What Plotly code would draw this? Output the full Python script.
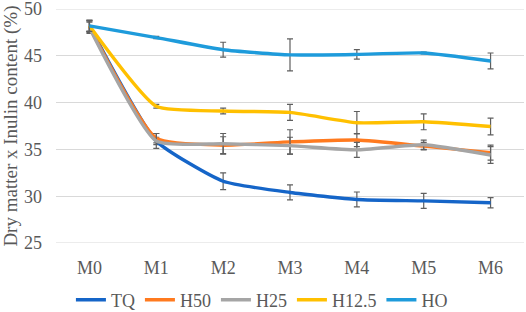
import plotly.graph_objects as go

categories = ["M0", "M1", "M2", "M3", "M4", "M5", "M6"]
series_names = ["TQ", "H50", "H25", "H12.5", "HO"]
tq = [48.2, 35.9, 31.6, 30.4, 29.65, 29.5, 29.3]
h50 = [48.1, 36.2, 35.45, 35.8, 36.0, 35.35, 34.65]
h25 = [48.0, 35.9, 35.6, 35.4, 34.95, 35.5, 34.4]
h125 = [48.2, 39.6, 39.1, 38.95, 37.85, 37.95, 37.45]
ho = [48.2, 46.95, 45.65, 45.1, 45.15, 45.3, 44.45]

tq_err = [0.6, 0.4, 0.9, 0.8, 0.8, 0.8, 0.55]
h50_err = [0.6, 0.5, 0.9, 1.3, 0.7, 0.4, 0.8]
h25_err = [0.6, 0.8, 1.1, 0.9, 0.8, 0.5, 0.9]
h125_err = [0.6, 0.2, 0.3, 0.85, 1.2, 0.85, 0.9]
ho_err = [0.6, 0.12, 0.8, 1.7, 0.5, 0.1, 0.85]

y_min, y_max = 25, 50
y_ticks = [25, 30, 35, 40, 45, 50]

colors = ["#1565C8", "#FF7A1F", "#A5A5A5", "#FFC000", "#1E9BDB"]
values = [tq, h50, h25, h125, ho]
errors = [tq_err, h50_err, h25_err, h125_err, ho_err]

fig = go.Figure()
for name, v, e, c in zip(series_names, values, errors, colors):
    fig.add_trace(go.Scatter(
        x=categories, y=v, name=name, mode="lines",
        line=dict(color=c, width=3.4, shape="spline", smoothing=0.5),
        error_y=dict(type="data", array=e, visible=True, color="#5f5f5f",
                     thickness=1.2, width=3),
    ))

# edge gridlines (plotly drops gridlines lying on the plot-area border)
for yv in (y_min, y_max):
    fig.add_shape(type="line", xref="paper", yref="y", x0=0, x1=1, y0=yv, y1=yv,
                  line=dict(color="#D9D9D9", width=1), layer="below")

font_family = "Liberation Serif"
fig.update_layout(
    width=526, height=312,
    margin=dict(l=56, r=2, t=9, b=69, autoexpand=False),
    paper_bgcolor="white", plot_bgcolor="white",
    font=dict(family=font_family, size=18, color="#595959"),
    showlegend=True,
    legend=dict(orientation="h", x=0.44, xanchor="center", y=-0.165, yanchor="top",
                font=dict(family=font_family, size=18, color="#595959"),
                itemwidth=30, tracegroupgap=0, bgcolor="rgba(0,0,0,0)"),
    xaxis=dict(type="category", range=[-0.5, 6.5], showgrid=False, zeroline=False,
               showline=False, ticks="", automargin=False, ticklabelstandoff=12,
               tickfont=dict(size=18, color="#595959")),
    yaxis=dict(range=[y_min, y_max], tickvals=y_ticks, showgrid=True,
               gridcolor="#D9D9D9", gridwidth=1, zeroline=False, showline=False,
               ticks="", automargin=False, ticklabelstandoff=13,
               ticklabeloverflow="allow",
               tickfont=dict(size=18, color="#595959")),
    annotations=[dict(text="Dry matter x Inulin content (%)", textangle=-90,
                      xref="paper", yref="paper", x=-0.097, y=0.5,
                      xanchor="center", yanchor="middle", showarrow=False,
                      font=dict(family=font_family, size=19, color="#595959"))],
)

fig.write_html("out.html", config={"displayModeBar": False},
               post_script="document.body.style.margin='0';document.body.style.padding='0';")
